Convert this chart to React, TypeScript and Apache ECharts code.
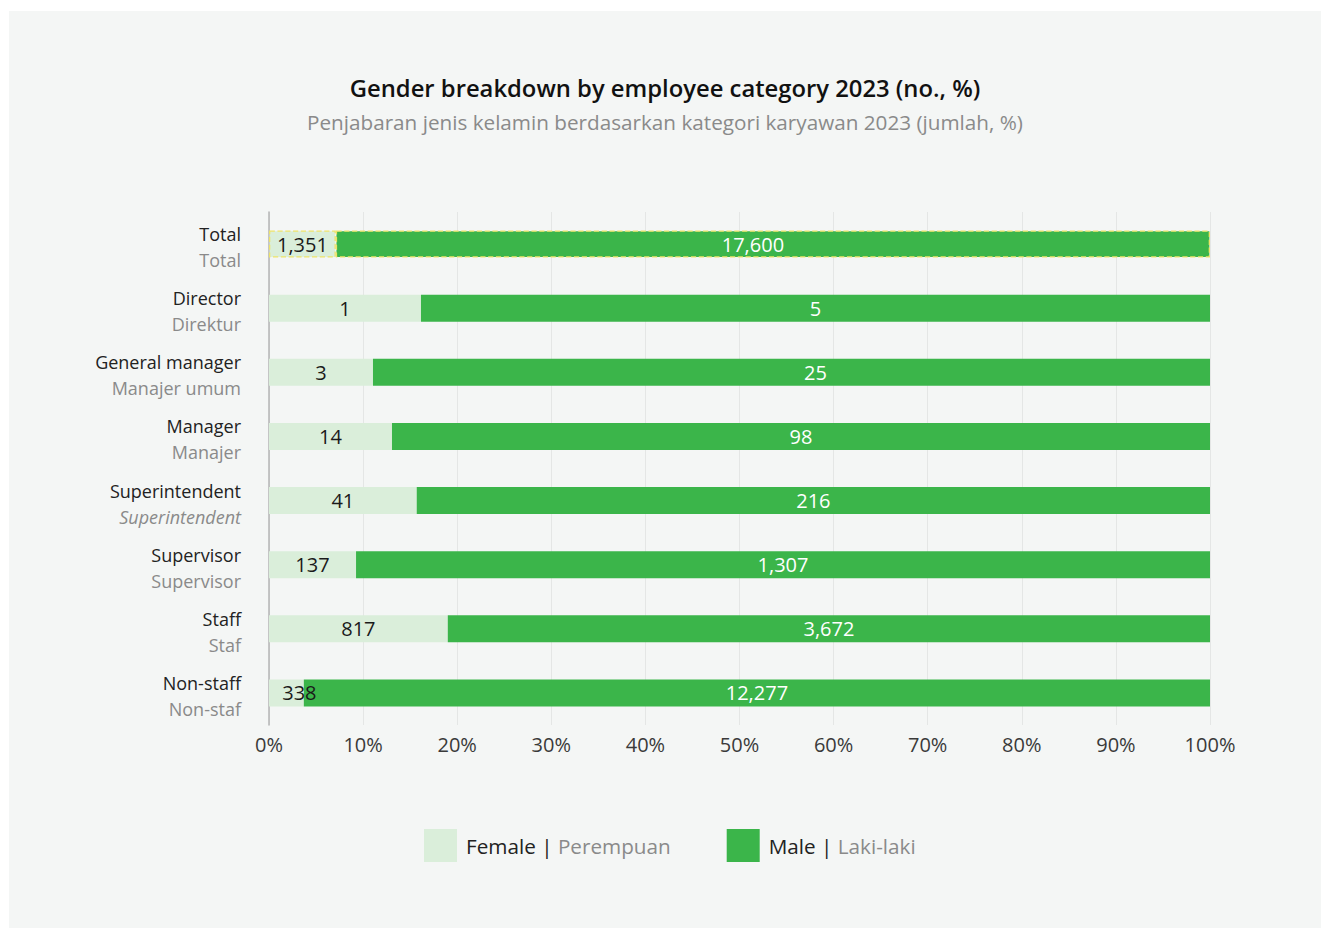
import React, { useEffect, useRef } from "react";
import * as echarts from "echarts";

const categoriesEn = ["Total", "Director", "General manager", "Manager", "Superintendent", "Supervisor", "Staff", "Non-staff"];
const categoriesId = ["Total", "Direktur", "Manajer umum", "Manajer", "Superintendent", "Supervisor", "Staf", "Non-staf"];
const femaleCount = [1351, 1, 3, 14, 41, 137, 817, 338];
const maleCount = [17600, 5, 25, 98, 216, 1307, 3672, 12277];
const femalePct = [7.1, 16.15, 11.05, 13.07, 15.7, 9.25, 19.0, 3.7];
const malePct = [92.9, 83.85, 88.95, 86.93, 84.3, 90.75, 81.0, 96.3];
const xTicks = [0, 10, 20, 30, 40, 50, 60, 70, 80, 90, 100];

const FONT = "'Open Sans', 'Noto Sans', sans-serif";
const FEMALE = "#daeeda";
const MALE = "#3bb54a";

const femaleLabelOffset: Record<number, number[]> = { 7: [13, 0] };
const maleLabelOffset: Record<number, number[]> = { 0: [-20, 0], 2: [24, 0] };
const totalBorder = { borderColor: "#eee36a", borderWidth: 1.3, borderType: "dashed" };

export default function App() {
  const ref = useRef<HTMLDivElement>(null);
  useEffect(() => {
    if (!ref.current) return;
    const chart = echarts.init(ref.current, undefined, { renderer: "svg" });
    const fmt = (n: number) => n.toLocaleString("en-US");
    const option: any = {
      animation: false,
      backgroundColor: "#f4f6f5",
      textStyle: { fontFamily: FONT },
      title: {
        text: "Gender breakdown by employee category 2023 (no., %)",
        subtext: "Penjabaran jenis kelamin berdasarkan kategori karyawan 2023 (jumlah, %)",
        left: "center",
        top: 60,
        itemGap: 11,
        textStyle: { fontFamily: FONT, fontSize: 23.8, fontWeight: 600, color: "#111" },
        subtextStyle: { fontFamily: FONT, fontSize: 20.7, color: "#8a8a8a" },
      },
      legend: {
        left: 410,
        top: 813,
        itemWidth: 33,
        itemHeight: 33,
        itemGap: 56,
        icon: "rect",
        data: ["Female", "Male"],
        formatter: (name: string) =>
          name === "Female" ? "{a|Female | }{b|Perempuan}" : "{a|Male | }{b|Laki-laki}",
        textStyle: {
          fontFamily: FONT,
          padding: [0, 0, 0, 4],
          rich: {
            a: { fontFamily: FONT, fontSize: 20.7, color: "#222" },
            b: { fontFamily: FONT, fontSize: 20.7, color: "#8a8a8a" },
          },
        },
      },
      grid: { left: 260, right: 111, top: 201, height: 513, containLabel: false },
      xAxis: {
        type: "value",
        min: xTicks[0],
        max: xTicks[xTicks.length - 1],
        interval: 10,
        axisLine: { show: false },
        axisTick: { show: false },
        splitLine: { show: true, lineStyle: { color: "#e4e6e5", width: 1 } },
        axisLabel: {
          formatter: "{value}%",
          fontFamily: FONT,
          fontSize: 20,
          color: "#3a3a3a",
          margin: 9,
        },
      },
      yAxis: {
        type: "category",
        inverse: true,
        data: categoriesEn,
        axisLine: { show: true, lineStyle: { color: "#b5b5b5", width: 1.5 } },
        axisTick: { show: false },
        axisLabel: {
          margin: 28,
          padding: [6, 0, 0, 0],
          formatter: (v: string) => {
            const i = categoriesEn.indexOf(v);
            const sub = categoriesId[i];
            return `{a|${v}}\n{${v === "Superintendent" ? "c" : "b"}|${sub}}`;
          },
          rich: {
            a: { fontFamily: FONT, fontSize: 18, color: "#222", lineHeight: 26, align: "right" },
            b: { fontFamily: FONT, fontSize: 18, color: "#8a8a8a", lineHeight: 26, align: "right" },
            c: { fontFamily: FONT, fontSize: 18, color: "#8a8a8a", lineHeight: 26, align: "right", fontStyle: "italic" },
          },
        },
      },
      series: [
        {
          name: "Female",
          type: "bar",
          stack: "g",
          barWidth: 27,
          itemStyle: { color: FEMALE },
          label: {
            show: true,
            position: "inside",
            fontFamily: FONT,
            fontSize: 20,
            color: "#1a1a1a",
            formatter: (p: any) => fmt(femaleCount[p.dataIndex]),
          },
          data: femalePct.map((v, i) => ({
            value: v,
            itemStyle: i === 0 ? { color: FEMALE, ...totalBorder } : undefined,
            label: femaleLabelOffset[i] ? { offset: femaleLabelOffset[i] } : undefined,
          })),
        },
        {
          name: "Male",
          type: "bar",
          stack: "g",
          barWidth: 27,
          itemStyle: { color: MALE },
          label: {
            show: true,
            position: "inside",
            fontFamily: FONT,
            fontSize: 20,
            color: "#ffffff",
            formatter: (p: any) => fmt(maleCount[p.dataIndex]),
          },
          data: malePct.map((v, i) => ({
            value: v,
            itemStyle: i === 0 ? { color: MALE, ...totalBorder } : undefined,
            label: maleLabelOffset[i] ? { offset: maleLabelOffset[i] } : undefined,
          })),
        },
      ],
    };
    chart.setOption(option);
    return () => chart.dispose();
  }, []);
  return (
    <div
      ref={ref}
      style={{ position: "fixed", left: 9, top: 11, width: 1312, height: 917 }}
    />
  );
}
